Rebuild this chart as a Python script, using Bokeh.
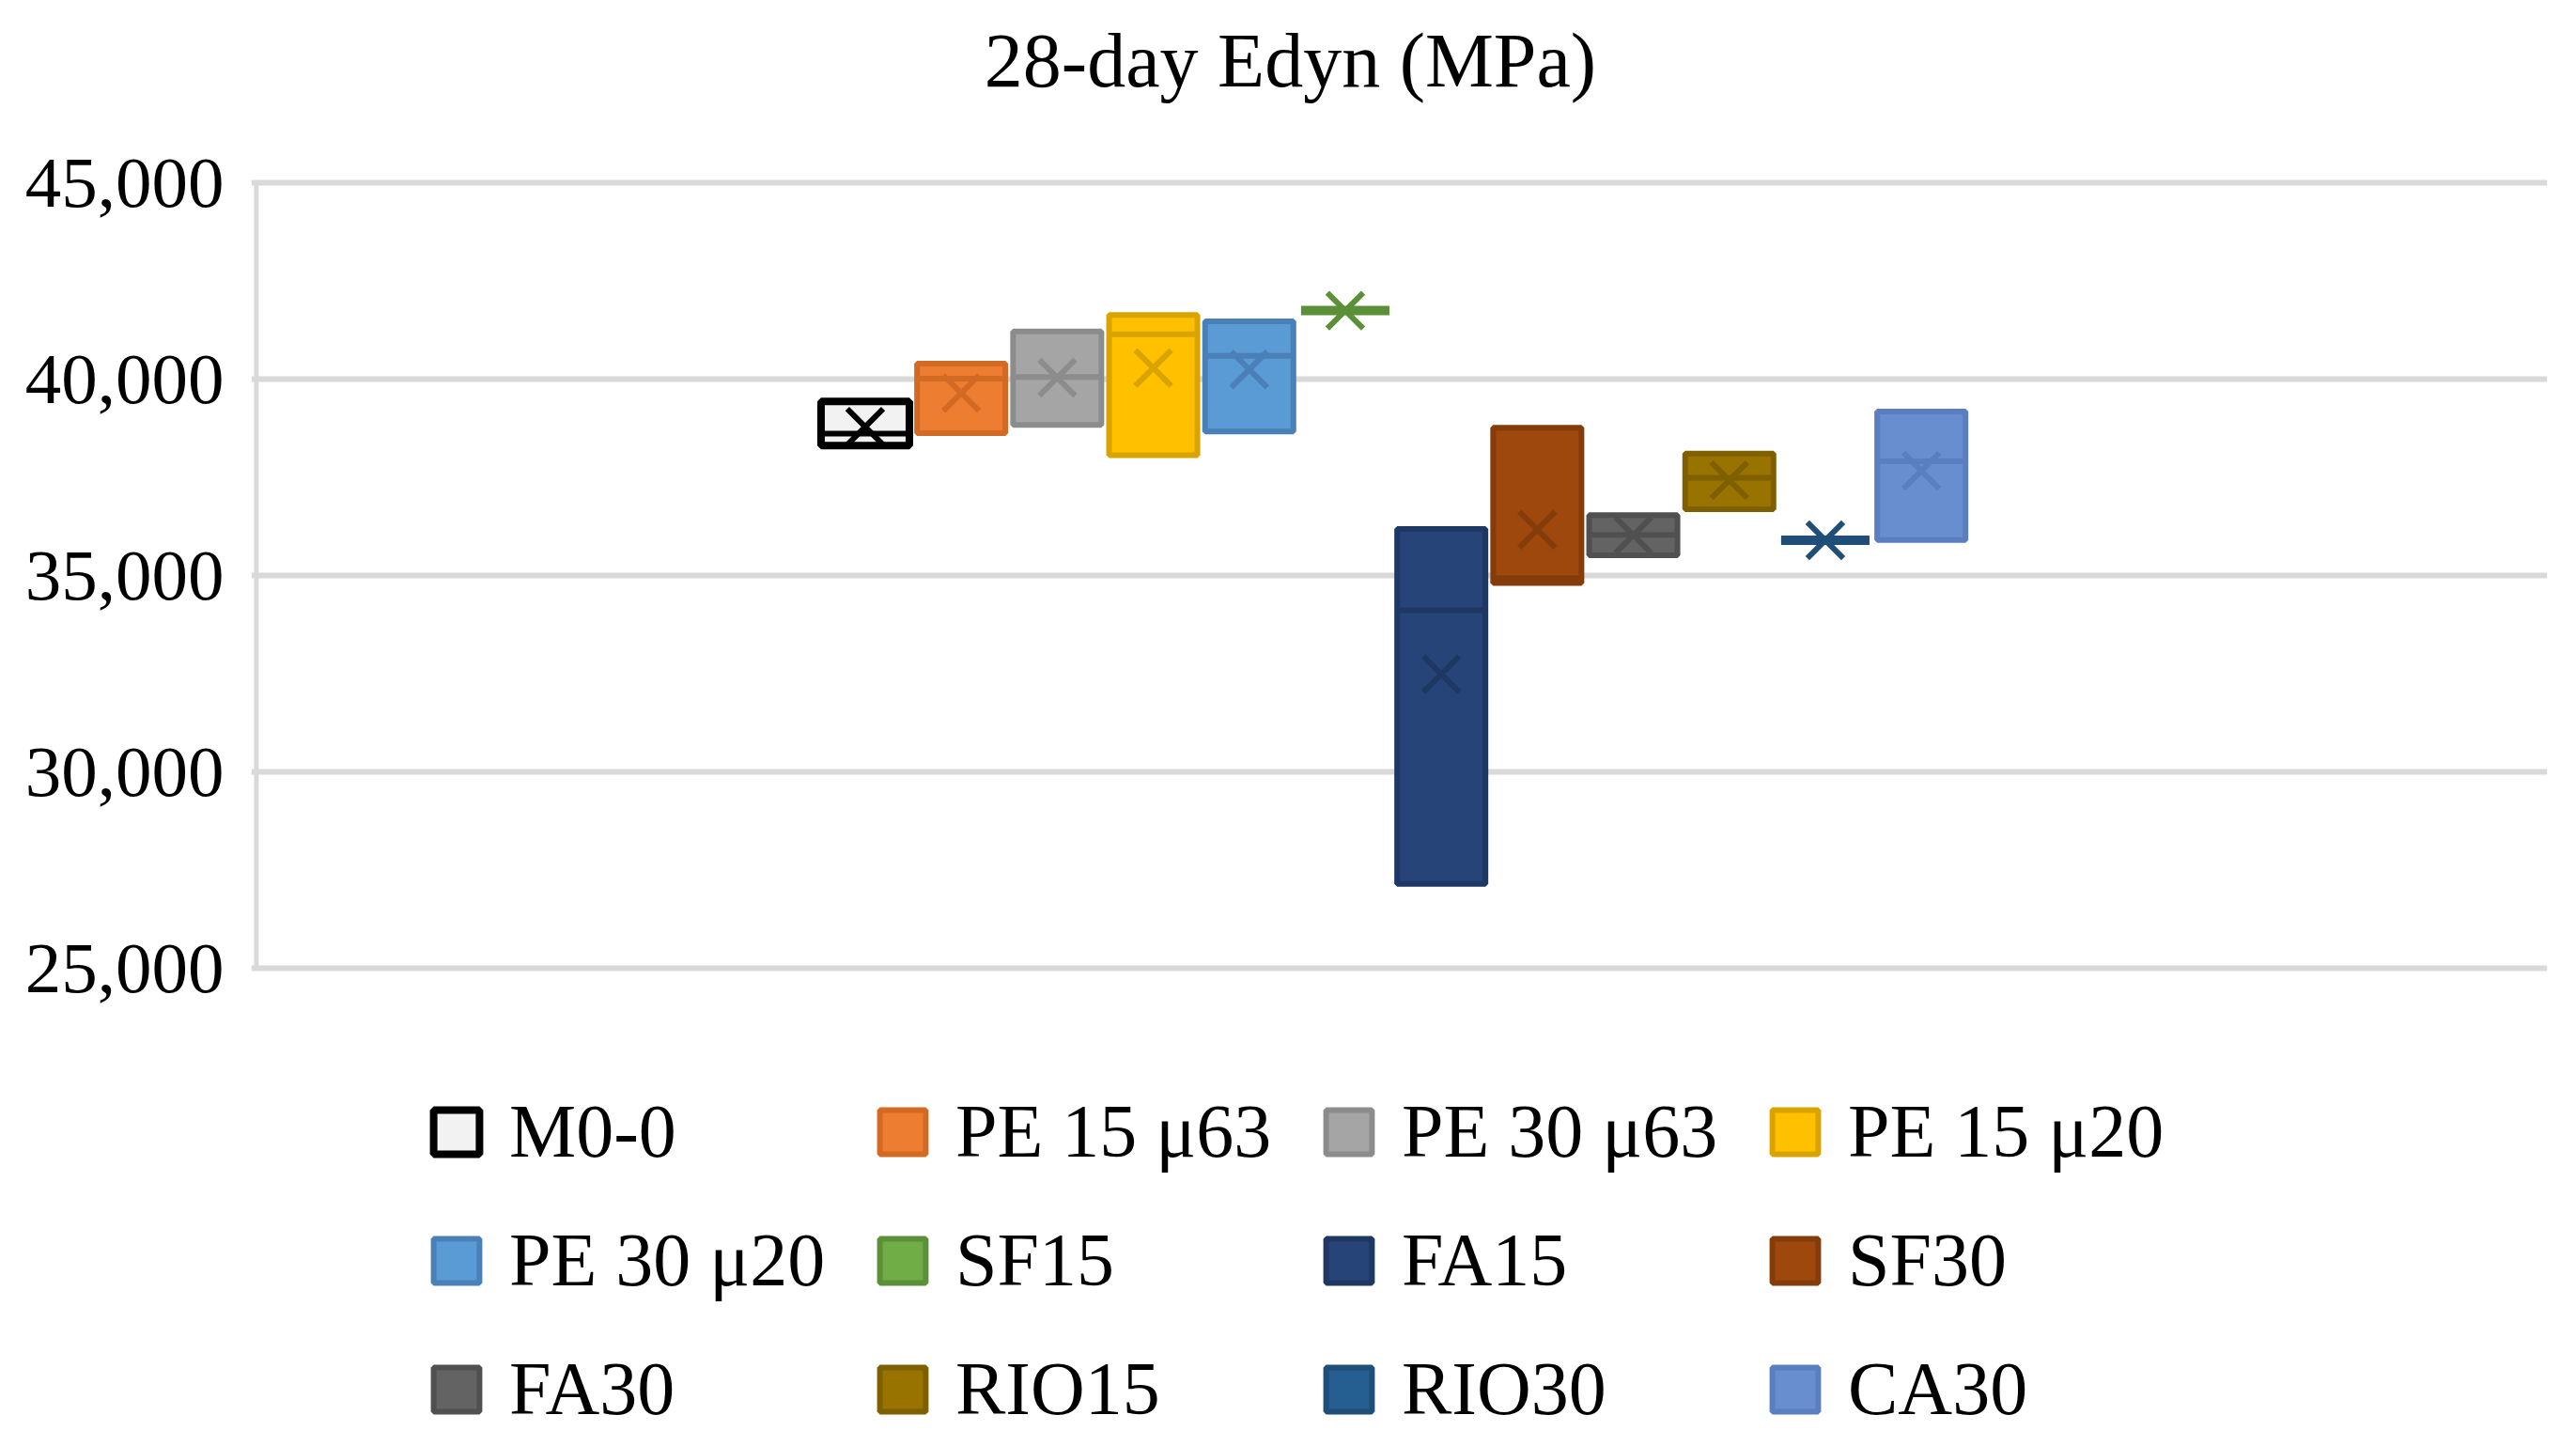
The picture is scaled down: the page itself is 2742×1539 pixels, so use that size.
from bokeh.plotting import figure
from bokeh.models import Range1d, FixedTicker, NumeralTickFormatter, Legend, LegendItem, Label
from bokeh.embed import file_html
from bokeh.resources import INLINE

# ---- data ----
series = ["M0-0", "PE 15 μ63", "PE 30 μ63", "PE 15 μ20", "PE 30 μ20", "SF15",
          "FA15", "SF30", "FA30", "RIO15", "RIO30", "CA30"]
q1 = [38310, 38630, 38840, 38070, 38670, 41750, 27150, 34810, 35520, 36690, 35900, 35910]
q3 = [39440, 40400, 41220, 41640, 41480, 41750, 36190, 38770, 36540, 38110, 35900, 39180]
median = [38620, 40020, 40060, 41150, 40600, 41750, 34120, 34940, 36040, 37490, 35900, 37910]
mean = [38790, 39650, 40040, 40290, 40250, 41750, 32490, 36170, 36030, 37430, 35900, 37670]
y_ticks = [25000, 30000, 35000, 40000, 45000]
y_min, y_max = 25000, 45000
title_text = "28-day Edyn (MPa)"

# ---- styles ----
fill_colors = ["#F2F2F2", "#ED7D31", "#A5A5A5", "#FFC000", "#5B9BD5", "#70AD47",
               "#264478", "#9E480E", "#636363", "#997300", "#255E91", "#698ED0"]
line_colors = ["#000000", "#D26A24", "#8C8C8C", "#D9A300", "#4A80B8", "#5B8F38",
               "#1F3863", "#853C0B", "#505050", "#7F6000", "#1F4E79", "#5A7EBF"]
FONT = "Liberation Serif"
GRID = "#D9D9D9"
BOX_W = 0.92
X_START, X_END = -6.394, 17.52

p = figure(width=2726, height=1523, output_backend="svg", toolbar_location=None,
           x_range=Range1d(X_START, X_END), y_range=Range1d(13202, 49650),
           x_axis_location=None,
           min_border_left=267, min_border_right=15, min_border_top=0, min_border_bottom=0)
p.outline_line_color = None
p.background_fill_color = "white"
for g in p.xgrid:
    g.visible = False

yax = p.yaxis[0]
yax.ticker = FixedTicker(ticks=y_ticks)
yax.formatter = NumeralTickFormatter(format="0,0")
yax.major_tick_line_color = None
yax.minor_tick_line_color = None
yax.axis_line_color = None
yax.major_label_text_font = FONT
yax.major_label_text_font_size = "77px"
yax.major_label_text_color = "#000000"
yax.major_label_standoff = 23

p.ygrid.grid_line_color = GRID
p.ygrid.grid_line_width = 6

# value-axis line between the lowest and highest tick
p.segment(x0=[X_START + 0.053], x1=[X_START + 0.053], y0=[y_min], y1=[y_max],
          line_color=GRID, line_width=5)

items = []
for i, name in enumerate(series):
    lw = 8 if i == 0 else 6
    r = p.vbar(x=[i], width=BOX_W, bottom=[q1[i]], top=[q3[i]],
               fill_color=fill_colors[i], line_color=line_colors[i], line_width=lw)
    mw = 10 if q1[i] == q3[i] else 6
    p.segment(x0=[i - BOX_W / 2], x1=[i + BOX_W / 2], y0=[median[i]], y1=[median[i]],
              line_color=line_colors[i], line_width=mw)
    p.scatter(x=[i], y=[mean[i]], marker="x", size=54,
              line_color=line_colors[i], line_width=6)
    items.append(LegendItem(label=name, renderers=[r]))

p.add_layout(Label(x=4.428, y=48130, text=title_text,
                   text_align="center", text_baseline="middle", text_font=FONT,
                   text_font_size="82px", text_color="#000000"))

legend = Legend(items=items, location=(188, -11), orientation="horizontal", ncols=4,
                glyph_width=61, glyph_height=59, label_standoff=26, label_width=362,
                label_height=111, spacing=26, padding=0, margin=0,
                border_line_color=None, background_fill_alpha=0,
                label_text_font=FONT, label_text_font_size="80px",
                label_text_color="#000000", label_text_baseline="alphabetic")
p.add_layout(legend, "center")

open("out.html", "w").write(file_html(p, INLINE))
